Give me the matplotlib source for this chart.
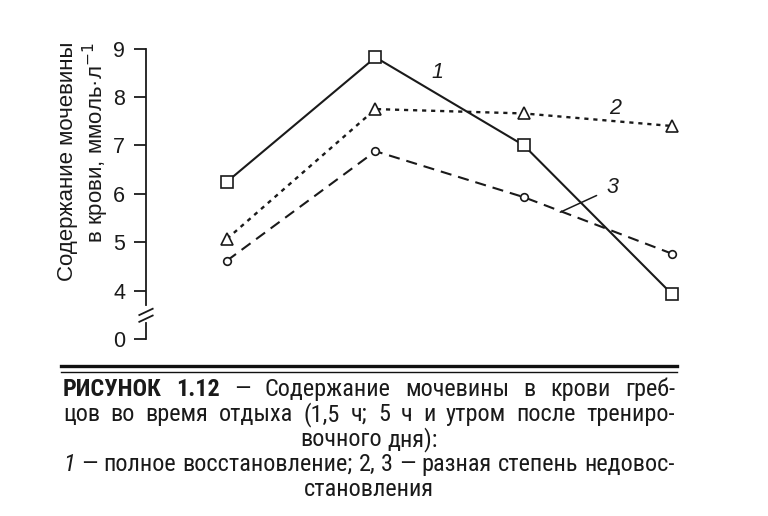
import matplotlib
matplotlib.use("Agg")
import matplotlib.pyplot as plt
from matplotlib.lines import Line2D

# Urea in rowers' blood during rest (1.5 h, 5 h, next morning)
points = [0, 1, 2, 3]
full_recovery = [6.25, 8.82, 7.0, 3.92]      # 1
partial_a = [5.07, 7.75, 7.66, 7.40]         # 2
partial_b = [4.62, 6.88, 5.93, 4.76]         # 3
ytick_pos = [3, 4, 5, 6, 7, 8, 9]
ytick_labels = ["0", "4", "5", "6", "7", "8", "9"]

W, H = 768, 516
plt.rcParams["font.family"] = ["Liberation Sans", "DejaVu Sans"]
plt.rcParams["lines.scale_dashes"] = False
NARROW = ["Roboto Condensed", "Liberation Sans Narrow", "Liberation Sans", "DejaVu Sans"]

fig = plt.figure(figsize=(W / 100, H / 100), dpi=100)
fig.patch.set_facecolor("white")
ax = fig.add_axes([146 / W, 1 - 339 / H, (702 - 146) / W, (339 - 48.6) / H])
ax.set_xlim(-0.546, 3.2)
ax.set_ylim(3, 9)
for side in ("top", "right", "bottom", "left"):
    ax.spines[side].set_visible(False)
ax.set_xticks([])
ax.set_yticks(ytick_pos, ytick_labels)
ax.tick_params(axis="y", direction="out", length=9, width=1.3, pad=6, labelsize=15.5, colors="#1a1a1a")

mk = dict(markerfacecolor="white", markeredgecolor="#1a1a1a", markeredgewidth=1.2, color="#1a1a1a", clip_on=False)
ax.plot(points, full_recovery, "-", marker="s", markersize=8, lw=1.5, **mk)
ax.plot(points, partial_a, linestyle=(0, (3, 3.5)), marker="^", markersize=8.5, lw=1.7, **mk)
ax.plot(points, partial_b, linestyle=(0, (8, 5)), marker="o", markersize=5.5, lw=1.5, **mk)

# broken axis
x0 = ax.get_xlim()[0]
ax.plot([x0, x0], [9, 3.70], color="#1a1a1a", lw=1.3, clip_on=False)
ax.plot([x0, x0], [3.33, 3.0], color="#1a1a1a", lw=1.3, clip_on=False)
for yb in (3.56, 3.42):
    ax.plot([x0 - 0.045, x0 + 0.045], [yb - 0.065, yb + 0.065], color="#1a1a1a", lw=1.3, clip_on=False)

lab = dict(fontsize=15.5, style="italic", color="#1a1a1a", ha="center", va="center")
ax.text(1.416, 8.50, "1", **lab)
ax.text(2.616, 7.77, "2", **lab)
ax.annotate("3", xy=(2.245, 5.62), xytext=(2.60, 6.12), textcoords="data",
            arrowprops=dict(arrowstyle="-", color="#1a1a1a", lw=1.1, shrinkA=6, shrinkB=0), **lab)

fig.text(68 / W, 1 - 42 / H, "Содержание мочевины", rotation=90, ha="center", va="top", fontsize=16, color="#1a1a1a")
fig.text(96 / W, 1 - 42 / H, "в крови, ммоль·л$^{-1}$", rotation=90, ha="center", va="top", fontsize=16, color="#1a1a1a")

# double rule above the caption
fig.add_artist(Line2D([61 / W, 677 / W], [1 - 366 / H] * 2, color="#111111", lw=2.4))
fig.add_artist(Line2D([61 / W, 677 / W], [1 - 372 / H] * 2, color="#111111", lw=1.0))

LEFT, RIGHT = 63, 675
renderer = fig.canvas.get_renderer()

# pick a caption size at which the longest line fits the column
probe = fig.text(0, 0, "1 — полное восстановление; 2, 3 — разная степень недовос-", fontsize=10, family=NARROW)
cap_size = min(19.0, 10 * (RIGHT - LEFT) / probe.get_window_extent(renderer).width * 0.99)
probe.remove()


def caption_line(y, parts, align="justify"):
    texts = []
    for word, weight, style in parts:
        t = fig.text(0, 1 - y / H, word, fontsize=cap_size, family=NARROW, weight=weight, style=style,
                     va="baseline", ha="left", color="#1a1a1a")
        texts.append(t)
    widths = [t.get_window_extent(renderer).width for t in texts]
    if align == "justify" and len(texts) > 1:
        gap = (RIGHT - LEFT - sum(widths)) / (len(texts) - 1)
        x = LEFT
    else:
        gap = cap_size * 0.3
        total = sum(widths) + gap * (len(texts) - 1)
        x = (LEFT + RIGHT) / 2 - total / 2
    for t, w in zip(texts, widths):
        t.set_x(x / W)
        x += w + gap


def words(s, weight="normal", style="normal"):
    return [(w, weight, style) for w in s.split()]


caption_line(396, words("РИСУНОК 1.12", "bold") + words("— Содержание мочевины в крови греб-"))
caption_line(421, words("цов во время отдыха (1,5 ч; 5 ч и утром после трениро-"))
caption_line(446, words("вочного дня):"), align="center")
caption_line(471, words("1", style="italic") + words("— полное восстановление; 2, 3 — разная степень недовос-"))
caption_line(496, words("становления"), align="center")

fig.savefig("out.png", dpi=100, facecolor="white")
